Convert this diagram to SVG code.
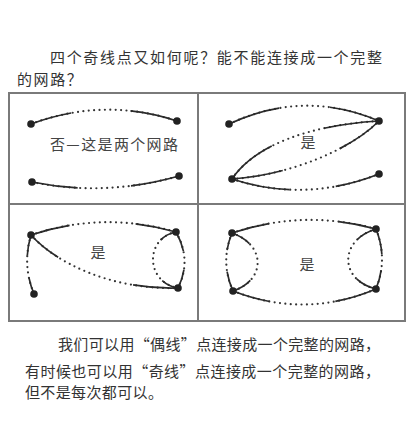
<svg xmlns="http://www.w3.org/2000/svg" width="420" height="421" viewBox="0 0 420 421">
<style>
  .txt { font-family: "Noto Sans CJK SC", "Noto Sans", sans-serif; font-size: 15px; fill: #333; }
  .lbl { font-family: "Noto Sans CJK SC", "Noto Sans", sans-serif; font-size: 15px; fill: #444; }
  .frame { fill: none; stroke: #7a7a7a; stroke-width: 2; }
  .dot { fill: none; stroke: #333; stroke-width: 2.2; stroke-linecap: round; stroke-dasharray: 0 5.4; }
  .sol { fill: none; stroke: #2a2a2a; stroke-width: 1.7; }
  .node { fill: #222; }
</style>
<rect width="420" height="421" fill="#fff"/>
<g id="title">
  <text class="txt" x="50" y="63" textLength="332">四个奇线点又如何呢？能不能连接成一个完整</text>
  <text class="txt" x="17" y="85" letter-spacing="1.6">的网路？</text>
</g>
<g id="frame">
  <rect class="frame" x="9" y="93" width="396" height="228"/>
  <line class="frame" x1="198" y1="93" x2="198" y2="321"/>
  <line class="frame" x1="9" y1="204" x2="405" y2="204"/>
</g>
<g id="connectors">
  <!-- panel 1 -->
  <path class="dot" d="M31,124 Q104,97 177,121"/>
  <path class="sol" d="M31,124 Q104,97 177,121" pathLength="100" stroke-dasharray="28 40 32"/>
  <path class="dot" d="M32,182 Q105,197 179,176"/>
  <path class="sol" d="M32,182 Q105,197 179,176" pathLength="100" stroke-dasharray="31 36 33"/>
  <!-- panel 2 -->
  <path class="dot" d="M229,124 Q304,89 379,121"/>
  <path class="sol" d="M229,124 Q304,89 379,121" pathLength="100" stroke-dasharray="34 33 33"/>
  <path class="dot" d="M232,179 C255,145 310,125 379,121"/>
  <path class="sol" d="M232,179 C255,145 310,125 379,121" pathLength="100" stroke-dasharray="32 34 34"/>
  <path class="dot" d="M232,179 C290,175 350,150 379,121"/>
  <path class="sol" d="M232,179 C290,175 350,150 379,121" pathLength="100" stroke-dasharray="32 38 30"/>
  <path class="dot" d="M232,179 Q305,203 379,174"/>
  <path class="sol" d="M232,179 Q305,203 379,174" pathLength="100" stroke-dasharray="39 31 30"/>
  <!-- panel 3 -->
  <path class="dot" d="M31,235 Q103,211 176,232"/>
  <path class="sol" d="M31,235 Q103,211 176,232" pathLength="100" stroke-dasharray="27 45 28"/>
  <path class="dot" d="M31,235 C55,262 110,290 178,288"/>
  <path class="sol" d="M31,235 C55,262 110,290 178,288" pathLength="100" stroke-dasharray="22 50 28"/>
  <path class="dot" d="M31,235 Q22,265 34,294"/>
  <path class="sol" d="M31,235 Q22,265 34,294" pathLength="100" stroke-dasharray="35 37 28"/>
  <path class="dot" d="M176,232 C145,238 145,282 178,288"/>
  <path class="sol" d="M176,232 C145,238 145,282 178,288" pathLength="100" stroke-dasharray="22 56 22"/>
  <path class="dot" d="M176,232 Q192,260 178,288"/>
  <path class="sol" d="M176,232 Q192,260 178,288" pathLength="100" stroke-dasharray="35 32 33"/>
  <!-- panel 4 -->
  <path class="dot" d="M232,233 Q304,209 376,229"/>
  <path class="sol" d="M232,233 Q304,209 376,229" pathLength="100" stroke-dasharray="26 48 26"/>
  <path class="dot" d="M233,291 Q305,319 376,289"/>
  <path class="sol" d="M233,291 Q305,319 376,289" pathLength="100" stroke-dasharray="26 45 29"/>
  <path class="dot" d="M232,233 Q220,262 233,291"/>
  <path class="sol" d="M232,233 Q220,262 233,291" pathLength="100" stroke-dasharray="30 36 34"/>
  <path class="dot" d="M232,233 C266,245 266,280 233,291"/>
  <path class="sol" d="M232,233 C266,245 266,280 233,291" pathLength="100" stroke-dasharray="25 50 25"/>
  <path class="dot" d="M376,229 Q388,259 376,289"/>
  <path class="sol" d="M376,229 Q388,259 376,289" pathLength="100" stroke-dasharray="42 26 32"/>
  <path class="dot" d="M376,229 C339,240 339,280 376,289"/>
  <path class="sol" d="M376,229 C339,240 339,280 376,289" pathLength="100" stroke-dasharray="25 50 25"/>
</g>
<g id="panel1">
  <g id="p1-a"><circle class="node" cx="31" cy="124" r="3.8"/></g>
  <g id="p1-b"><circle class="node" cx="177" cy="121" r="3.8"/></g>
  <g id="p1-c"><circle class="node" cx="32" cy="182" r="3.8"/></g>
  <g id="p1-d"><circle class="node" cx="179" cy="176" r="3.8"/></g>
  <text class="lbl" x="50" y="150" textLength="128">否—这是两个网路</text>
</g>
<g id="panel2">
  <g id="p2-a"><circle class="node" cx="229" cy="124" r="3.8"/></g>
  <g id="p2-b"><circle class="node" cx="379" cy="121" r="3.8"/></g>
  <g id="p2-c"><circle class="node" cx="232" cy="179" r="3.8"/></g>
  <g id="p2-d"><circle class="node" cx="379" cy="174" r="3.8"/></g>
  <text class="lbl" x="308" y="148" text-anchor="middle">是</text>
</g>
<g id="panel3">
  <g id="p3-a"><circle class="node" cx="31" cy="235" r="3.8"/></g>
  <g id="p3-b"><circle class="node" cx="176" cy="232" r="3.8"/></g>
  <g id="p3-c"><circle class="node" cx="34" cy="294" r="3.8"/></g>
  <g id="p3-d"><circle class="node" cx="178" cy="288" r="3.8"/></g>
  <text class="lbl" x="98" y="258" text-anchor="middle">是</text>
</g>
<g id="panel4">
  <g id="p4-a"><circle class="node" cx="232" cy="233" r="3.8"/></g>
  <g id="p4-b"><circle class="node" cx="376" cy="229" r="3.8"/></g>
  <g id="p4-c"><circle class="node" cx="233" cy="291" r="3.8"/></g>
  <g id="p4-d"><circle class="node" cx="376" cy="289" r="3.8"/></g>
  <text class="lbl" x="307" y="270" text-anchor="middle">是</text>
</g>
<g id="caption">
  <text class="txt" x="58" y="350" textLength="322">我们可以用“偶线”点连接成一个完整的网路，</text>
  <text class="txt" x="25" y="377" textLength="355">有时候也可以用“奇线”点连接成一个完整的网路，</text>
  <text class="txt" x="25" y="398" textLength="138">但不是每次都可以。</text>
</g>
</svg>
